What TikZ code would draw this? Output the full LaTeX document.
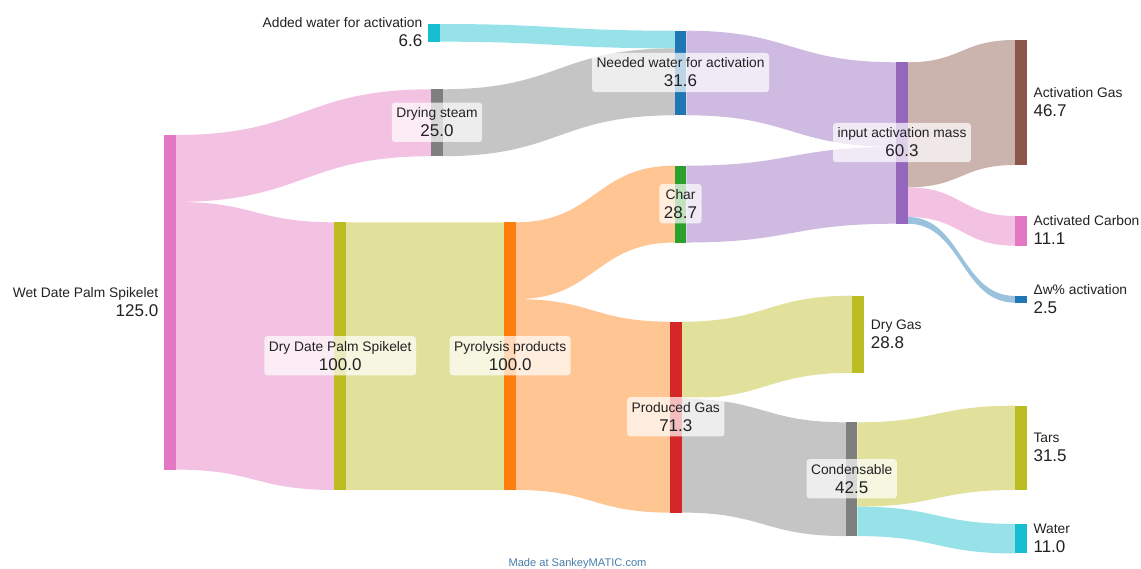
\documentclass[tikz,border=0pt]{standalone}
\usepackage{fontspec}
\setmainfont{Liberation Sans}
\usetikzlibrary{calc,fit}
\pgfdeclarelayer{bgl}
\pgfdeclarelayer{flowl}
\pgfdeclarelayer{boxl}
\pgfdeclarelayer{textl}
\pgfsetlayers{bgl,flowl,main,boxl,textl}
\definecolor{cPink}{HTML}{E377C2}
\definecolor{cOlive}{HTML}{BCBD22}
\definecolor{cOrange}{HTML}{FF7F0E}
\definecolor{cGray}{HTML}{7F7F7F}
\definecolor{cCyan}{HTML}{17BECF}
\definecolor{cBlue}{HTML}{1F77B4}
\definecolor{cGreen}{HTML}{2CA02C}
\definecolor{cPurple}{HTML}{9467BD}
\definecolor{cRed}{HTML}{D62728}
\definecolor{cBrown}{HTML}{8C564B}
\colorlet{lPink}{cPink!45!white}
\colorlet{lOlive}{cOlive!45!white}
\colorlet{lOrange}{cOrange!45!white}
\colorlet{lGray}{cGray!45!white}
\colorlet{lCyan}{cCyan!45!white}
\colorlet{lBlue}{cBlue!45!white}
\colorlet{lPurple}{cPurple!45!white}
\colorlet{lBrown}{cBrown!45!white}
\definecolor{txtc}{HTML}{222222}
\definecolor{credc}{HTML}{4A7DAA}
\newcommand\kk{2.677}
\newcommand\sflow[6]{%
  \begin{pgfonlayer}{flowl}
  \fill[#1] let \p1=(#2.north east), \p2=(#4.north west), \p3=($(\p1)!0.5!(\p2)$),
    \n1={#3*\kk}, \n2={(#3+#6)*\kk}, \n3={#5*\kk}, \n4={(#5+#6)*\kk} in
    (\x1,\y1-\n1) .. controls (\x3,\y1-\n1) and (\x3,\y2-\n3) .. (\x2,\y2-\n3)
    -- (\x2,\y2-\n4) .. controls (\x3,\y2-\n4) and (\x3,\y1-\n2) .. (\x1,\y1-\n2) -- cycle;
  \end{pgfonlayer}}
\newcommand\midlab[4]{%
  \begin{pgfonlayer}{textl}
  \node[nm, anchor=base] (#1n) at ($(#2.center)+(0,-5)$) {#3};
  \node[vl, anchor=base] (#1v) at ($(#2.center)+(0,14)$) {#4};
  \end{pgfonlayer}
  \begin{pgfonlayer}{boxl}
  \node[lbox, fit=(#1n)(#1v)] (#1b) {};
  \end{pgfonlayer}}
\newcommand\leftlab[4]{%
  \begin{pgfonlayer}{textl}
  \node[nm, anchor=base east] (#1n) at ($(#2.west)+(-6,-5)$) {#3};
  \node[vl, anchor=base east] (#1v) at ($(#2.west)+(-6,14)$) {#4};
  \end{pgfonlayer}}
\newcommand\rightlab[4]{%
  \begin{pgfonlayer}{textl}
  \node[nm, anchor=base west] (#1n) at ($(#2.east)+(7,-5)$) {#3};
  \node[vl, anchor=base west] (#1v) at ($(#2.east)+(7,14)$) {#4};
  \end{pgfonlayer}}
\begin{document}
\begin{tikzpicture}[x=1pt,y=-1pt,
  bar/.style={rectangle, inner sep=0pt, outer sep=0pt, minimum width=11.5pt, draw=none},
  bh/.style={minimum height=#1*2.677pt},
  nm/.style={font=\fontsize{13.8}{16}\selectfont, text=txtc, inner sep=0pt, outer sep=0pt},
  vl/.style={font=\fontsize{17}{19}\selectfont, text=txtc, inner sep=0pt, outer sep=0pt},
  lbox/.style={fill=white, fill opacity=0.7, rounded corners=3pt, inner xsep=4.5pt, inner ysep=5pt, draw=none}]
\begin{pgfonlayer}{bgl}
\fill[white] (0,0) rectangle (1141,569);
\end{pgfonlayer}
\useasboundingbox (0,0) rectangle (1141,569);
% bars
\node[bar, fill=cPink, bh=125] (wet) at (170,302.3) {};
\node[bar, fill=cCyan, bh=6.6] (aw) at (434,32.85) {};
\node[bar, fill=cGray, bh=25] (ds) at (437,122.75) {};
\node[bar, fill=cOlive, bh=100] (dry) at (340.2,356.15) {};
\node[bar, fill=cOrange, bh=100] (pyro) at (510.2,356.15) {};
\node[bar, fill=cBlue, bh=31.6] (nw) at (680.5,73) {};
\node[bar, fill=cGreen, bh=28.7] (char) at (680.5,204.1) {};
\node[bar, fill=cRed, bh=71.3] (pg) at (675.8,417.15) {};
\node[bar, fill=cPurple, bh=60.3] (inp) at (902,143) {};
\node[bar, fill=cOlive, bh=28.8] (dg) at (858.2,334.25) {};
\node[bar, fill=cGray, bh=42.5] (cond) at (851.7,479.2) {};
\node[bar, fill=cBrown, bh=46.7] (ag) at (1020.8,102.5) {};
\node[bar, fill=cPink, bh=11.1] (ac) at (1020.8,230.85) {};
\node[bar, fill=cBlue, bh=2.5] (dw) at (1020.8,299.35) {};
\node[bar, fill=cOlive, bh=31.5] (tars) at (1020.8,447.85) {};
\node[bar, fill=cCyan, bh=11] (water) at (1020.8,538.7) {};
% flows
\sflow{lPink}{wet}{0}{ds}{0}{25}
\sflow{lPink}{wet}{25}{dry}{0}{100}
\sflow{lCyan}{aw}{0}{nw}{0}{6.6}
\sflow{lGray}{ds}{0}{nw}{6.6}{25}
\sflow{lOlive}{dry}{0}{pyro}{0}{100}
\sflow{lOrange}{pyro}{0}{char}{0}{28.7}
\sflow{lOrange}{pyro}{28.7}{pg}{0}{71.3}
\sflow{lPurple}{nw}{0}{inp}{0}{31.6}
\sflow{lPurple}{char}{0}{inp}{31.6}{28.7}
\sflow{lBrown}{inp}{0}{ag}{0}{46.7}
\sflow{lPink}{inp}{46.7}{ac}{0}{11.1}
\sflow{lBlue}{inp}{57.8}{dw}{0}{2.5}
\sflow{lOlive}{pg}{0}{dg}{0}{28.8}
\sflow{lGray}{pg}{28.8}{cond}{0}{42.5}
\sflow{lOlive}{cond}{0}{tars}{0}{31.5}
\sflow{lCyan}{cond}{31.5}{water}{0}{11}
% labels
\leftlab{wetl}{wet}{Wet Date Palm Spikelet}{125.0}
\leftlab{awl}{aw}{Added water for activation}{6.6}
\midlab{dsl}{ds}{Drying steam}{25.0}
\midlab{dryl}{dry}{Dry Date Palm Spikelet}{100.0}
\midlab{pyl}{pyro}{Pyrolysis products}{100.0}
\midlab{nwl}{nw}{Needed water for activation}{31.6}
\midlab{chl}{char}{Char}{28.7}
\midlab{pgl}{pg}{Produced Gas}{71.3}
\midlab{inl}{inp}{input activation mass}{60.3}
\midlab{cdl}{cond}{Condensable}{42.5}
\rightlab{dgl}{dg}{Dry Gas}{28.8}
\rightlab{agl}{ag}{Activation Gas}{46.7}
\rightlab{acl}{ac}{Activated Carbon}{11.1}
\rightlab{dwl}{dw}{Δw\% activation}{2.5}
\rightlab{tal}{tars}{Tars}{31.5}
\rightlab{wal}{water}{Water}{11.0}
\node[font=\fontsize{11.1}{13}\selectfont, text=credc, inner sep=0pt] (credit) at (577.5,563.5) {Made at SankeyMATIC.com};
\end{tikzpicture}
\end{document}
